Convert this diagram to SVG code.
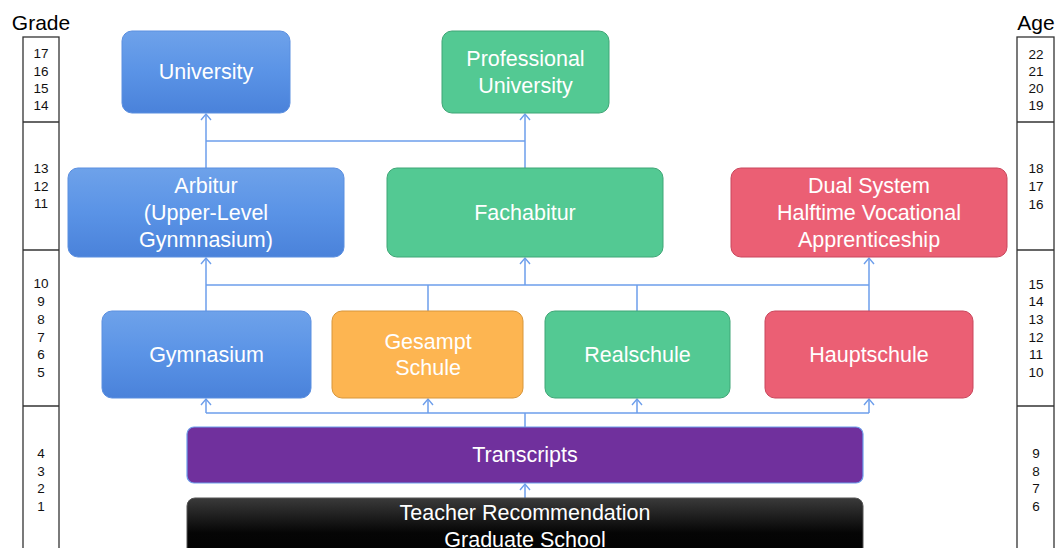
<svg xmlns="http://www.w3.org/2000/svg" width="1056" height="548" viewBox="0 0 1056 548">
  <defs>
    <linearGradient id="gBlue" x1="0" y1="0" x2="0" y2="1">
      <stop offset="0" stop-color="#6ea2ea"/>
      <stop offset="0.5" stop-color="#5a93e6"/>
      <stop offset="1" stop-color="#4a82da"/>
    </linearGradient>
    <linearGradient id="gBlack" x1="0" y1="0" x2="0" y2="1">
      <stop offset="0" stop-color="#3a3a3a"/>
      <stop offset="0.5" stop-color="#050505"/>
      <stop offset="1" stop-color="#000000"/>
    </linearGradient>
    <!-- open chevron arrowhead, tip at the path end -->
    <marker id="arr" viewBox="-8 -7 10 14" refX="0" refY="0" markerWidth="10" markerHeight="14" markerUnits="userSpaceOnUse" orient="auto">
      <path d="M-6,-5 L0,0 L-6,5" fill="none" stroke="#6d9eeb" stroke-width="1.4"/>
    </marker>
  </defs>
  <style>
    .scale { fill: #fff; stroke: #333; stroke-width: 1.3; }
    .hdr { font-family: "Liberation Sans", Arial, sans-serif; font-size: 21px; fill: #000; text-anchor: middle; }
    .num { font-family: "Liberation Sans", Arial, sans-serif; font-size: 13.5px; fill: #111; text-anchor: middle; }
    .lbl { font-family: "Liberation Sans", Arial, sans-serif; font-size: 21.5px; fill: #fff; text-anchor: middle; }
    .blue { fill: url(#gBlue); stroke: #5b8fe0; stroke-width: 1; }
    .green { fill: #53c993; stroke: #3fa676; stroke-width: 1; }
    .red { fill: #eb5f74; stroke: #c9475c; stroke-width: 1; }
    .orange { fill: #fdb551; stroke: #d8963a; stroke-width: 1; }
    .purple { fill: #70309d; stroke: #6d9eeb; stroke-width: 1.2; }
    .black { fill: url(#gBlack); stroke: #555; stroke-width: 1; }
    .wire { fill: none; stroke: #6d9eeb; stroke-width: 1.5; }
  </style>

  <rect width="1056" height="548" fill="#fff"/>

  <!-- grade scale -->
  <g id="grade-scale">
    <text class="hdr" x="41" y="30">Grade</text>
    <rect class="scale" x="23" y="37" width="36" height="520"/>
    <line class="scale" x1="23" y1="122" x2="59" y2="122"/>
    <line class="scale" x1="23" y1="250" x2="59" y2="250"/>
    <line class="scale" x1="23" y1="406" x2="59" y2="406"/>
    <text class="num" x="41" y="58">17</text>
    <text class="num" x="41" y="76">16</text>
    <text class="num" x="41" y="93">15</text>
    <text class="num" x="41" y="110">14</text>
    <text class="num" x="41" y="173">13</text>
    <text class="num" x="41" y="191">12</text>
    <text class="num" x="41" y="208">11</text>
    <text class="num" x="41" y="288">10</text>
    <text class="num" x="41" y="306">9</text>
    <text class="num" x="41" y="324">8</text>
    <text class="num" x="41" y="342">7</text>
    <text class="num" x="41" y="359">6</text>
    <text class="num" x="41" y="377">5</text>
    <text class="num" x="41" y="458">4</text>
    <text class="num" x="41" y="476">3</text>
    <text class="num" x="41" y="493">2</text>
    <text class="num" x="41" y="511">1</text>
  </g>

  <!-- age scale -->
  <g id="age-scale">
    <text class="hdr" x="1036" y="30">Age</text>
    <rect class="scale" x="1017" y="37" width="37" height="520"/>
    <line class="scale" x1="1017" y1="122" x2="1054" y2="122"/>
    <line class="scale" x1="1017" y1="250" x2="1054" y2="250"/>
    <line class="scale" x1="1017" y1="406" x2="1054" y2="406"/>
    <text class="num" x="1036" y="59">22</text>
    <text class="num" x="1036" y="76">21</text>
    <text class="num" x="1036" y="93">20</text>
    <text class="num" x="1036" y="110">19</text>
    <text class="num" x="1036" y="173">18</text>
    <text class="num" x="1036" y="191">17</text>
    <text class="num" x="1036" y="209">16</text>
    <text class="num" x="1036" y="289">15</text>
    <text class="num" x="1036" y="306">14</text>
    <text class="num" x="1036" y="324">13</text>
    <text class="num" x="1036" y="342">12</text>
    <text class="num" x="1036" y="359">11</text>
    <text class="num" x="1036" y="377">10</text>
    <text class="num" x="1036" y="458">9</text>
    <text class="num" x="1036" y="476">8</text>
    <text class="num" x="1036" y="493">7</text>
    <text class="num" x="1036" y="511">6</text>
  </g>

  <!-- connectors -->
  <g id="connectors">
    <!-- upper level to higher education -->
    <path class="wire" d="M206,168 V114" marker-end="url(#arr)"/>
    <path class="wire" d="M525,168 V114" marker-end="url(#arr)"/>
    <path class="wire" d="M206,141 H525"/>
    <!-- secondary schools to upper level -->
    <path class="wire" d="M206,311 V258" marker-end="url(#arr)"/>
    <path class="wire" d="M525,285 V258" marker-end="url(#arr)"/>
    <path class="wire" d="M869,311 V258" marker-end="url(#arr)"/>
    <path class="wire" d="M206,285 H869"/>
    <path class="wire" d="M428,311 V285"/>
    <path class="wire" d="M637,311 V285"/>
    <!-- transcripts to secondary schools -->
    <path class="wire" d="M525,427 V413"/>
    <path class="wire" d="M206,413 H869"/>
    <path class="wire" d="M206,413 V399" marker-end="url(#arr)"/>
    <path class="wire" d="M428,413 V399" marker-end="url(#arr)"/>
    <path class="wire" d="M637,413 V399" marker-end="url(#arr)"/>
    <path class="wire" d="M869,413 V399" marker-end="url(#arr)"/>
    <!-- recommendation to transcripts -->
    <path class="wire" d="M525,498 V484" marker-end="url(#arr)"/>
  </g>

  <g id="university">
    <rect class="blue" x="122" y="31" width="168" height="82" rx="10"/>
    <text class="lbl" x="206" y="79">University</text>
  </g>
  <g id="professional-university">
    <rect class="green" x="442" y="31" width="167" height="82" rx="10"/>
    <text class="lbl" x="525.5" y="66">Professional</text>
    <text class="lbl" x="525.5" y="93">University</text>
  </g>
  <g id="arbitur">
    <rect class="blue" x="68" y="168" width="276" height="89" rx="10"/>
    <text class="lbl" x="206" y="193">Arbitur</text>
    <text class="lbl" x="206" y="220">(Upper-Level</text>
    <text class="lbl" x="206" y="247">Gynmnasium)</text>
  </g>
  <g id="fachabitur">
    <rect class="green" x="387" y="168" width="276" height="89" rx="10"/>
    <text class="lbl" x="525" y="220">Fachabitur</text>
  </g>
  <g id="dual-system">
    <rect class="red" x="731" y="168" width="276" height="89" rx="10"/>
    <text class="lbl" x="869" y="193">Dual System</text>
    <text class="lbl" x="869" y="220">Halftime Vocational</text>
    <text class="lbl" x="869" y="247">Apprenticeship</text>
  </g>
  <g id="gymnasium">
    <rect class="blue" x="102" y="311" width="209" height="87" rx="10"/>
    <text class="lbl" x="206.5" y="362">Gymnasium</text>
  </g>
  <g id="gesampt-schule">
    <rect class="orange" x="332" y="311" width="191" height="87" rx="10"/>
    <text class="lbl" x="428" y="349">Gesampt</text>
    <text class="lbl" x="428" y="375">Schule</text>
  </g>
  <g id="realschule">
    <rect class="green" x="545" y="311" width="185" height="87" rx="10"/>
    <text class="lbl" x="637.5" y="362">Realschule</text>
  </g>
  <g id="hauptschule">
    <rect class="red" x="765" y="311" width="208" height="87" rx="10"/>
    <text class="lbl" x="869" y="362">Hauptschule</text>
  </g>
  <g id="transcripts">
    <rect class="purple" x="187" y="427" width="676" height="56" rx="7"/>
    <text class="lbl" x="525" y="462">Transcripts</text>
  </g>
  <g id="teacher-recommendation">
    <rect class="black" x="187" y="498" width="676" height="70" rx="8"/>
    <text class="lbl" x="525" y="520">Teacher Recommendation</text>
    <text class="lbl" x="525" y="547">Graduate School</text>
  </g>
</svg>
